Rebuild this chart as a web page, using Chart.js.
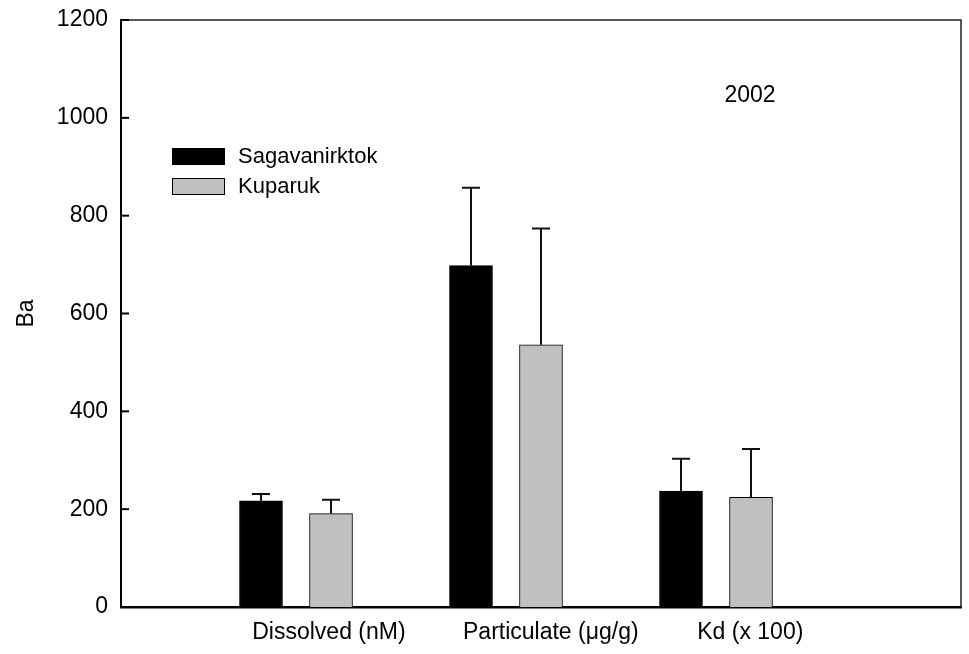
<!DOCTYPE html>
<html>
<head>
<meta charset="utf-8">
<script src="https://cdn.jsdelivr.net/npm/chart.js@4/dist/chart.umd.min.js"></script>
<style>
  html, body { margin: 0; padding: 0; background: #fff; }
  #wrap { width: 969px; height: 654px; }
</style>
</head>
<body>
<div id="wrap"><canvas id="chart"></canvas></div>
<script>
const categories = ['Dissolved (nM)', 'Particulate (\u03bcg/g)', 'Kd (x 100)'];
const sagMeans = [217, 698, 237];
const sagErr = [14, 159, 66];
const kupMeans = [191, 536, 224];
const kupErr = [28, 238, 99];
const yTicks = [0, 200, 400, 600, 800, 1000, 1200];

const FONT = 'Arial, "Liberation Sans", sans-serif';

// each group takes 3 units on the x axis: black bar, grey bar, gap
const toPoints = (vals, shift) => vals.map((v, i) => ({ x: 3 * i + 2 + shift, y: v }));

const errorBars = {
    id: 'errorBars',
    afterDatasetsDraw(chart) {
        const ctx = chart.ctx;
        const y = chart.scales.y;
        const errs = [sagErr, kupErr];
        ctx.save();
        ctx.strokeStyle = '#111';
        ctx.lineWidth = 2;
        chart.data.datasets.forEach((ds, d) => {
            chart.getDatasetMeta(d).data.forEach((bar, i) => {
                const top = y.getPixelForValue(ds.data[i].y + errs[d][i]);
                ctx.beginPath();
                ctx.moveTo(bar.x, bar.y);
                ctx.lineTo(bar.x, top);
                ctx.moveTo(bar.x - 9, top);
                ctx.lineTo(bar.x + 9, top);
                ctx.stroke();
            });
        });
        ctx.restore();
    }
};

const frame = {
    id: 'frame',
    afterDraw(chart) {
        const ctx = chart.ctx;
        const a = chart.chartArea;
        const y = chart.scales.y;
        ctx.save();
        // top + right border
        ctx.strokeStyle = '#222';
        ctx.lineWidth = 1.5;
        ctx.beginPath();
        ctx.moveTo(a.left, a.top);
        ctx.lineTo(a.right, a.top);
        ctx.lineTo(a.right, a.bottom);
        ctx.stroke();
        // inward ticks on y axis
        ctx.strokeStyle = '#000';
        ctx.lineWidth = 2;
        y.ticks.forEach(t => {
            const py = y.getPixelForValue(t.value);
            ctx.beginPath();
            ctx.moveTo(a.left, py);
            ctx.lineTo(a.left + 8, py);
            ctx.stroke();
        });
        // legend
        ctx.font = '22px ' + FONT;
        ctx.textBaseline = 'middle';
        ctx.textAlign = 'left';
        chart.data.datasets.forEach((ds, i) => {
            const bx = a.left + 51, by = a.top + 128 + i * 30;
            ctx.fillStyle = ds.backgroundColor;
            ctx.fillRect(bx, by, 53, 17);
            ctx.lineWidth = 1;
            ctx.strokeStyle = '#000';
            ctx.strokeRect(bx + 0.5, by + 0.5, 52, 16);
            ctx.fillStyle = '#000';
            ctx.fillText(ds.label, bx + 66, by + 9);
        });
        // year tag
        ctx.font = '23px ' + FONT;
        ctx.textAlign = 'center';
        ctx.textBaseline = 'alphabetic';
        ctx.fillText('2002', 750, 102);
        ctx.restore();
    }
};

const ctx = document.getElementById('chart').getContext('2d');
const chart = new Chart(ctx, {
    type: 'bar',
    data: {
        datasets: [{
            label: 'Sagavanirktok',
            data: toPoints(sagMeans, 0),
            backgroundColor: '#000000',
            borderColor: '#000000',
            borderWidth: 1
        }, {
            label: 'Kuparuk',
            data: toPoints(kupMeans, 1),
            backgroundColor: '#c0c0c0',
            borderColor: '#000000',
            borderWidth: 1
        }]
    },
    options: {
        responsive: true,
        maintainAspectRatio: false,
        animation: false,
        layout: { padding: { left: 0, right: 8, top: 20, bottom: 0 } },
        datasets: { bar: { barThickness: 43, grouped: false } },
        plugins: {
            legend: { display: false },
            tooltip: { enabled: false }
        },
        scales: {
            x: {
                type: 'linear',
                min: 0,
                max: 12,
                offset: false,
                grid: { display: false, drawTicks: false },
                border: { display: true, color: '#000', width: 2.5 },
                afterBuildTicks: axis => {
                    axis.ticks = [2.97, 6.14, 8.99].map(v => ({ value: v }));
                },
                afterFit: axis => {
                    axis.height = 47;
                    axis.paddingLeft = 0;
                    axis.paddingRight = 0;
                },
                ticks: {
                    autoSkip: false,
                    maxRotation: 0,
                    padding: 12,
                    color: '#000',
                    font: { family: FONT, size: 23 },
                    callback: (v, i) => categories[i]
                }
            },
            y: {
                min: 0,
                max: 1200,
                grid: { display: false, drawTicks: false },
                border: { display: true, color: '#000', width: 2 },
                afterBuildTicks: axis => {
                    axis.ticks = yTicks.map(v => ({ value: v }));
                },
                afterFit: axis => {
                    axis.width = 121;
                    axis.paddingTop = 0;
                    axis.paddingBottom = 0;
                },
                ticks: {
                    padding: 13,
                    color: '#000',
                    font: { family: FONT, size: 23 },
                    callback: v => String(v)
                },
                title: {
                    display: true,
                    text: 'Ba',
                    color: '#000',
                    padding: { top: 13, bottom: 0 },
                    font: { family: FONT, size: 23 }
                }
            }
        }
    },
    plugins: [errorBars, frame]
});
</script>
</body>
</html>
